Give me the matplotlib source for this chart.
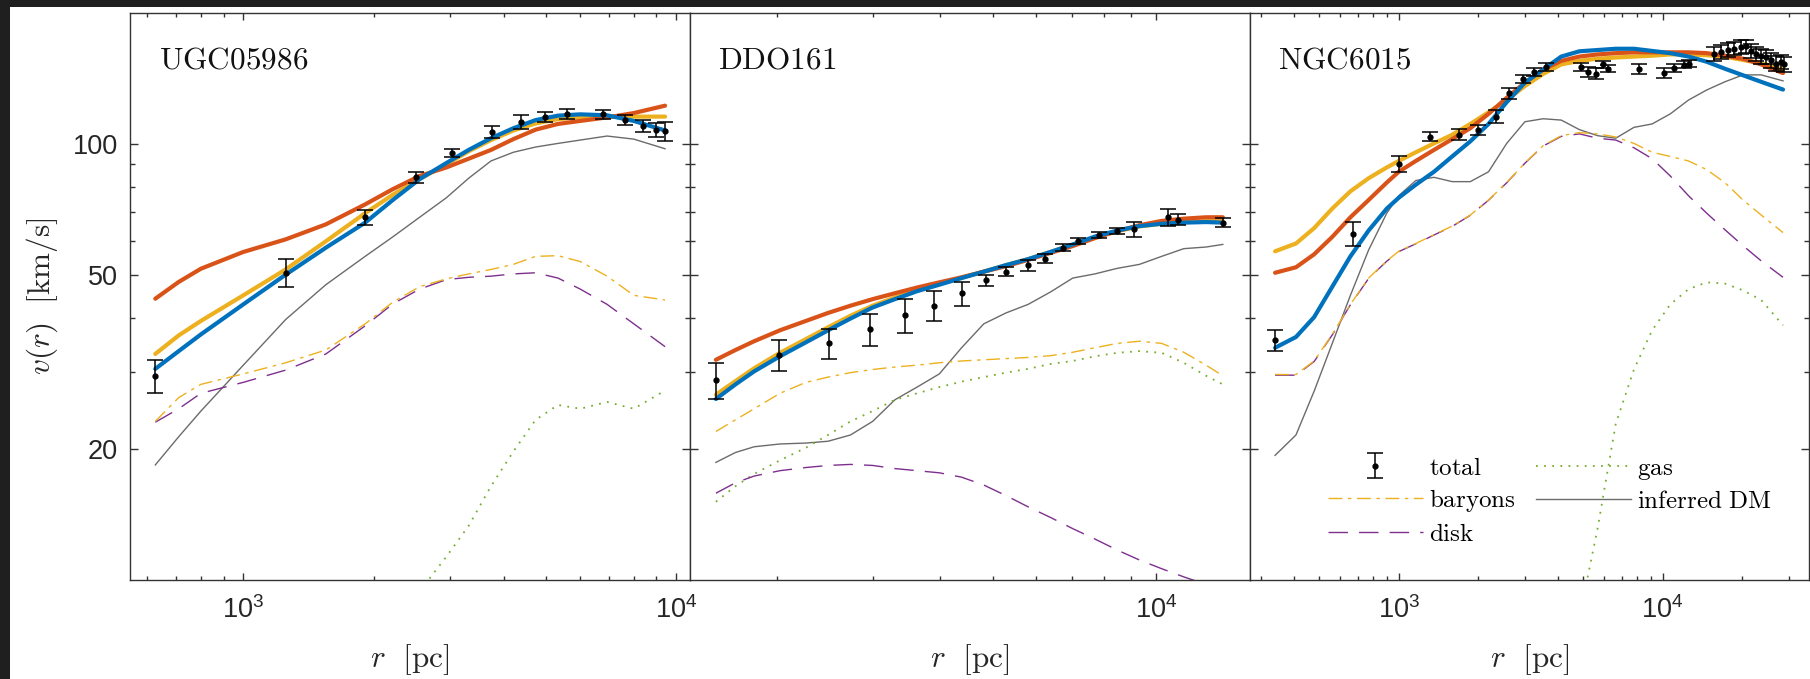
import matplotlib
matplotlib.use("Agg")
import matplotlib.pyplot as plt
from matplotlib.patches import Rectangle
from matplotlib.ticker import FixedLocator, LogLocator, NullFormatter

plt.rcParams["font.family"] = ["Liberation Sans", "DejaVu Sans"]
plt.rcParams["mathtext.fontset"] = "cm"

RED = "#D95319"
YELLOW = "#EDB120"
BLUE = "#0072BD"
PURPLE = "#7E2F8E"
GREEN = "#77AC30"
GREY = "#6b6b6b"
INK = "#262626"

# ---- UGC05986 ----
ugc_r = [626, 709, 798, 1000, 1253, 1552, 1913, 2216, 2556, 2948, 3319, 3738, 4210, 4741, 5339, 6012, 6934, 7994, 9441]
ugc_blue = [30.5, 33.5, 36.6, 42.9, 50.2, 57.9, 66.1, 74.5, 83.2, 90.6, 97.1, 103.3, 108.9, 113.7, 116.4, 117.2, 116.6, 113.2, 107.6]
ugc_yellow = [33.0, 36.4, 39.3, 45.0, 51.6, 59.9, 69.5, 76.6, 83.2, 90.0, 96.4, 102.3, 107.6, 111.7, 114.3, 115.3, 115.8, 115.8, 115.8]
ugc_red = [44.2, 48.3, 51.8, 56.6, 60.5, 65.5, 72.8, 78.9, 84.6, 88.5, 92.7, 97.1, 102.8, 108.1, 111.4, 113.2, 115.3, 118.0, 122.7]
ugc_dm = [18.35, 21.3, 24.4, 31.1, 39.6, 47.6, 55.3, 61.3, 68.0, 75.4, 83.6, 91.6, 95.9, 98.6, 100.5, 102.3, 104.5, 102.8, 97.7]
ugc_bary = [23.1, 26.2, 28.1, 29.7, 31.5, 33.7, 38.7, 43.4, 47.1, 49.1, 50.4, 51.6, 53.0, 55.3, 55.5, 53.8, 49.8, 45.0, 43.9]
ugc_disk = [23.0, 24.7, 26.8, 28.4, 30.3, 33.0, 38.3, 43.0, 46.5, 48.9, 49.5, 49.8, 50.4, 50.7, 49.3, 46.5, 42.9, 38.7, 34.3]
ugc_gas_r = [2556, 2948, 3319, 3738, 4210, 4741, 5339, 6012, 6934, 7994, 9441]
ugc_gas = [9.4, 11.3, 13.3, 16.4, 19.7, 23.3, 25.2, 24.7, 25.6, 24.7, 27.2]
ugc_obs_r = [626, 1253, 1913, 2513, 3032, 3765, 4393, 4971, 5598, 6768, 7623, 8383, 9002, 9441]
ugc_obs_v = [29.4, 50.7, 68.0, 84.0, 95.7, 106.9, 112.7, 115.8, 117.5, 117.2, 114.0, 110.1, 108.1, 107.1]
ugc_obs_err = [2.5, 3.7, 2.7, 2.3, 2.0, 3.5, 4.0, 3.0, 3.0, 3.0, 3.0, 3.5, 4.0, 5.5]

# ---- DDO161 ----
ddo_r = [1540, 1674, 1812, 2022, 2258, 2481, 2729, 2998, 3296, 3622, 3981, 4375, 4808, 5285, 5807, 6384,
         7018, 7712, 8476, 9316, 10240, 11250, 12370, 13280]
ddo_red = [32.0, 33.7, 35.3, 37.4, 39.3, 41.0, 42.6, 44.1, 45.5, 46.9, 48.2, 49.5, 51.0, 52.5, 54.3, 56.3,
           58.4, 60.9, 63.2, 65.2, 66.7, 67.5, 68.0, 68.0]
ddo_blue = [26.0, 28.1, 30.1, 32.6, 35.1, 37.4, 39.8, 42.2, 44.1, 46.0, 47.6, 49.3, 51.0, 52.8, 54.5, 56.6,
            58.9, 61.4, 63.4, 64.9, 65.7, 66.1, 66.3, 66.1]
ddo_yellow = [26.6, 28.6, 30.6, 33.2, 35.7, 38.0, 40.4, 42.6, 44.5, 46.3, 47.8, 49.4, 51.0, 52.8, 54.5, 56.6,
              58.8, 61.2, 63.2, 64.8, 65.7, 66.3, 66.6, 66.6]
ddo_dm = [18.6, 19.6, 20.2, 20.5, 20.6, 20.8, 21.5, 23.1, 25.9, 27.7, 29.7, 34.1, 38.7, 41.0, 42.9, 45.8,
          49.3, 50.4, 51.9, 53.0, 55.3, 57.6, 58.1, 58.9]
ddo_bary = [21.9, 23.3, 24.7, 26.8, 28.4, 29.2, 29.9, 30.4, 30.8, 31.1, 31.5, 31.8, 32.0, 32.2, 32.4, 32.7,
            33.3, 34.1, 34.9, 35.3, 34.9, 33.3, 31.1, 29.4]
ddo_disk = [15.8, 16.7, 17.3, 17.8, 18.1, 18.3, 18.4, 18.3, 18.0, 17.8, 17.6, 17.2, 16.5, 15.6, 14.7, 13.9,
            13.1, 12.4, 11.7, 11.1, 10.6, 10.15, 9.75, 9.45]
ddo_gas_r = ddo_r
ddo_gas = [15.1, 16.4, 17.5, 18.8, 20.1, 21.5, 23.1, 24.4, 25.9, 26.8, 27.7, 28.5, 29.2, 29.9, 30.5, 31.3,
           31.8, 32.6, 33.2, 33.5, 33.2, 31.5, 29.4, 28.1]
ddo_obs_r = [1540, 2016, 2489, 2961, 3433, 3895, 4375, 4846, 5285, 5807, 6235, 6746, 7185, 7834, 8476, 9098,
             10530, 10990, 13280]
ddo_obs_v = [28.7, 32.8, 34.9, 37.6, 40.5, 42.6, 45.5, 48.7, 51.0, 52.8, 54.6, 57.9, 59.9, 62.0, 63.2, 63.8,
             68.0, 67.2, 66.1]
ddo_obs_err = [2.7, 2.7, 2.8, 3.1, 3.7, 3.4, 2.9, 1.5, 1.2, 1.5, 1.3, 1.0, 1.0, 1.0, 1.0, 2.5, 3.0, 2.0, 1.5]

# ---- NGC6015 ----
ngc_r = [340, 408, 478, 560, 656, 769, 901, 1000, 1161, 1360, 1594, 1867, 2189, 2565, 3006, 3523, 4128, 4837,
         5667, 6641, 7784, 9122, 10690, 12530, 14680, 17200, 20160, 23620, 28580]
ngc_blue = [34.1, 36.1, 40.1, 47.1, 55.3, 63.4, 71.2, 75.4, 80.8, 86.5, 93.8, 101.6, 111.4, 125.0, 138.6, 148.5,
            159.1, 163.6, 164.7, 165.8, 165.8, 163.9, 162.0, 159.1, 154.8, 149.2, 144.1, 139.2, 133.6]
ngc_red = [50.7, 52.2, 55.9, 61.3, 68.0, 74.5, 81.7, 86.5, 91.6, 97.1, 102.8, 108.9, 117.5, 127.9, 138.6, 148.5,
           155.5, 159.1, 160.9, 162.0, 162.7, 162.7, 162.7, 162.7, 162.0, 159.8, 157.3, 152.6, 145.8]
ngc_yellow = [56.8, 59.2, 64.2, 71.2, 78.0, 83.6, 88.5, 91.6, 95.9, 100.5, 105.2, 111.4, 118.5, 126.4, 136.1,
              145.1, 152.6, 155.5, 157.3, 158.3, 159.1, 159.8, 160.9, 160.9, 160.2, 159.1, 156.2, 153.7, 148.5]
ngc_dm = [19.3, 21.5, 27.1, 34.9, 45.0, 57.2, 69.5, 76.2, 82.6, 84.0, 82.1, 82.1, 86.5, 100.5, 112.7, 114.5,
          113.7, 108.1, 104.7, 103.3, 109.4, 111.4, 117.5, 126.4, 133.3, 139.2, 144.4, 144.4, 139.9]
ngc_bary = [29.6, 29.6, 31.8, 36.6, 42.9, 49.3, 54.0, 56.8, 59.2, 62.0, 64.9, 68.8, 74.5, 81.7, 90.6, 99.3,
            104.7, 106.4, 105.7, 104.0, 100.5, 95.9, 93.8, 91.6, 87.5, 81.7, 74.5, 68.8, 62.7]
ngc_disk = [29.5, 29.5, 31.7, 36.5, 42.8, 49.2, 53.9, 56.7, 59.1, 61.9, 64.8, 68.7, 74.4, 81.6, 90.5, 99.1,
            104.3, 105.7, 103.3, 102.3, 98.2, 92.7, 84.6, 76.2, 69.5, 63.7, 58.5, 54.0, 49.5]
ngc_gas_r = [4837, 5667, 6641, 7784, 9122, 10690, 12530, 14680, 17200, 20160, 23620, 28580]
ngc_gas = [8.2, 13.1, 22.8, 30.4, 37.4, 42.9, 46.5, 48.2, 47.9, 46.2, 43.9, 38.4]
ngc_obs_r = [340, 673, 1000, 1309, 1698, 1991, 2332, 2610, 2947, 3261, 3611, 4899, 5222, 5585, 5920, 6183,
             8147, 10130, 11000, 12060, 12600, 15670, 16610, 17610, 18660, 19780, 20660, 21590, 22550, 23550,
             24600, 25700, 26850, 28040, 28860]
ngc_obs_v = [35.5, 62.4, 90.2, 104.2, 105.2, 108.0, 115.8, 131.0, 141.6, 146.6, 150.5, 150.5, 146.6, 145.4,
             152.7, 149.3, 149.3, 146.1, 149.7, 152.5, 153.3, 161.6, 163.0, 164.5, 166.0, 167.4, 168.0, 163.9,
             161.6, 159.3, 158.7, 156.0, 153.3, 154.6, 152.7]
ngc_obs_err = [2, 4, 4, 2.5, 3, 3, 4, 4, 3, 3, 3, 3, 4, 4, 3, 3, 4, 4, 3, 3, 3,
               6, 6, 6, 6, 6, 6, 6, 6, 6, 6, 6, 6, 6, 6]

panels = [
    ("UGC05986", (548, 10775), ugc_r, ugc_red, ugc_yellow, ugc_blue, ugc_bary, ugc_disk, ugc_dm,
     ugc_gas_r, ugc_gas, ugc_obs_r, ugc_obs_v, ugc_obs_err),
    ("DDO161", (1379, 14875), ddo_r, ddo_red, ddo_yellow, ddo_blue, ddo_bary, ddo_disk, ddo_dm,
     ddo_gas_r, ddo_gas, ddo_obs_r, ddo_obs_v, ddo_obs_err),
    ("NGC6015", (272, 35880), ngc_r, ngc_red, ngc_yellow, ngc_blue, ngc_bary, ngc_disk, ngc_dm,
     ngc_gas_r, ngc_gas, ngc_obs_r, ngc_obs_v, ngc_obs_err),
]


def draw_panel(ax, name, xlim, r, red, yellow, blue, bary, disk, dm, gas_r, gas, obs_r, obs_v, obs_err):
    ax.plot(r, dm, color=GREY, lw=1.0, label=r"$\mathrm{inferred\ DM}$")
    ax.plot(gas_r, gas, color=GREEN, lw=1.3, dashes=(1, 3.5), label=r"$\mathrm{gas}$")
    ax.plot(r, disk, color=PURPLE, lw=1.0, dashes=(14, 8), label=r"$\mathrm{disk}$")
    ax.plot(r, bary, color=YELLOW, lw=1.0, dashes=(10, 4, 2.5, 4), label=r"$\mathrm{baryons}$")
    ax.plot(r, yellow, color=YELLOW, lw=3.0, solid_capstyle="round")
    ax.plot(r, red, color=RED, lw=3.0, solid_capstyle="round")
    ax.plot(r, blue, color=BLUE, lw=3.0, solid_capstyle="round")
    ax.errorbar(obs_r, obs_v, yerr=obs_err, fmt="o", ms=3.5, color="k", ecolor="k",
                elinewidth=1.1, capsize=6, capthick=1.1, label=r"$\mathrm{total}$", zorder=5)

    ax.set_xscale("log")
    ax.set_yscale("log")
    ax.set_xlim(*xlim)
    ax.set_ylim(10, 200)

    ax.yaxis.set_major_locator(FixedLocator([20, 50, 100]))
    ax.yaxis.set_minor_locator(FixedLocator([30, 40, 60, 70, 80, 90]))
    ax.yaxis.set_major_formatter(plt.FixedFormatter(["20", "50", "100"]))
    ax.yaxis.set_minor_formatter(NullFormatter())
    ax.xaxis.set_major_locator(LogLocator(base=10))
    ax.xaxis.set_minor_locator(LogLocator(base=10, subs=range(2, 10)))
    ax.xaxis.set_minor_formatter(NullFormatter())

    ax.tick_params(which="both", direction="in", top=True, right=True, color="#333333",
                   labelcolor=INK, labelsize=19.5, width=1.0)
    ax.tick_params(axis="x", which="major", length=4.7, pad=12)
    ax.tick_params(axis="x", which="minor", length=2.7)
    ax.tick_params(axis="y", which="major", length=5.8, pad=9)
    ax.tick_params(axis="y", which="minor", length=3.6)
    for sp in ax.spines.values():
        sp.set_color("#333333")
        sp.set_linewidth(1.0)

    ax.text(0.051, 0.903, r"$\mathrm{%s}$" % name, transform=ax.transAxes,
            fontsize=22.5, ha="left", va="baseline", color="#111111")
    ax.set_xlabel(r"$r\ \ [\mathrm{pc}]$", fontsize=22.5, color=INK)
    ax.xaxis.set_label_coords(0.5, -0.1095)


fig = plt.figure(figsize=(18.1, 6.79), dpi=100)
fig.patch.set_facecolor("#1f1f1f")
fig.add_artist(Rectangle((10 / 1810, 0), 1, 672 / 679, transform=fig.transFigure,
                         facecolor="white", edgecolor="none", zorder=-10))

left0 = 130.3 / 1810
width = 559.6 / 1810
bottom = 99.3 / 679
height = 566.4 / 679
axes = []
for i, spec in enumerate(panels):
    ax = fig.add_axes([left0 + i * width, bottom, width, height])
    draw_panel(ax, *spec)
    if i > 0:
        ax.tick_params(labelleft=False)
    axes.append(ax)

axes[0].set_ylabel(r"$v(r)\ \ [\mathrm{km/s}]$", fontsize=22.5, color=INK)
axes[0].yaxis.set_label_coords(-0.1256, 0.5)

handles, labels = axes[2].get_legend_handles_labels()
order = [r"$\mathrm{total}$", r"$\mathrm{baryons}$", r"$\mathrm{disk}$", r"$\mathrm{gas}$",
         r"$\mathrm{inferred\ DM}$"]
lookup = dict(zip(labels, handles))
axes[2].legend([lookup[k] for k in order], order, ncol=2, loc="lower left",
               bbox_to_anchor=(0.14, 0.06), frameon=False, fontsize=18, handlelength=3.8,
               handletextpad=0.25, columnspacing=0.8, labelspacing=0.3, borderaxespad=0,
               borderpad=0)

fig.savefig("out.png", dpi=100, facecolor=fig.get_facecolor())
